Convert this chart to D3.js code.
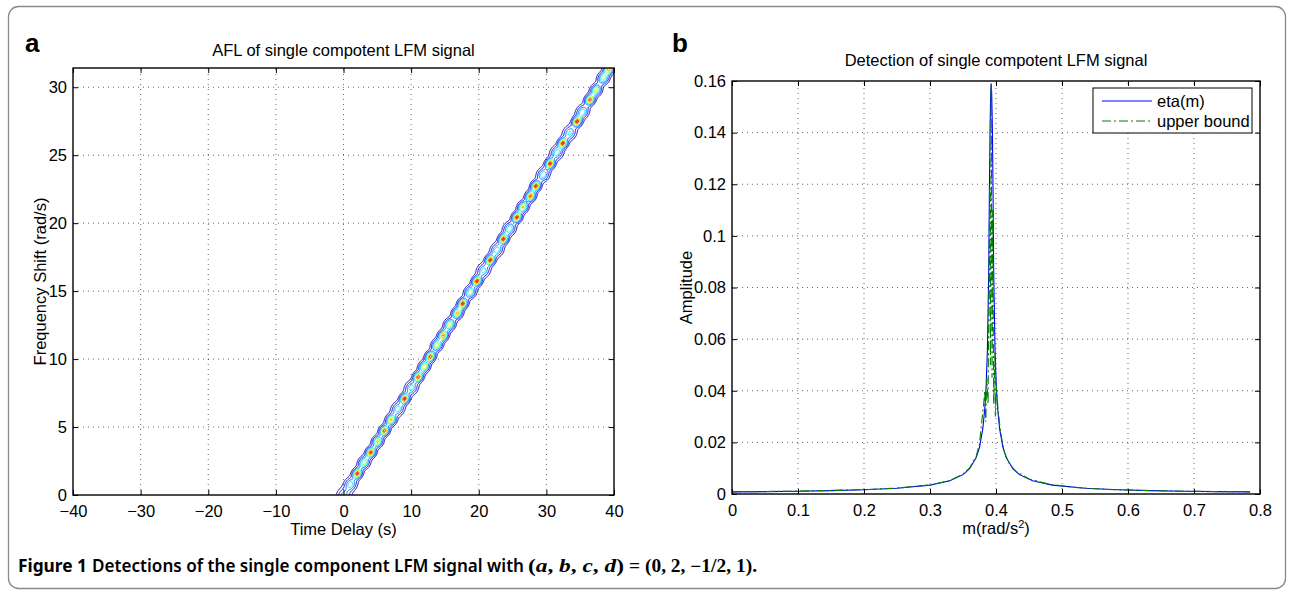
<!DOCTYPE html>
<html><head><meta charset="utf-8">
<script src="https://cdn.jsdelivr.net/npm/d3@7"></script>
<style>
body{margin:0;background:#fff}
</style>
</head><body>
<svg id="fig" width="1294" height="595" font-family="Liberation Sans, Arial, Helvetica, sans-serif"></svg>
<script>
// ---------------- DATA ----------------
// Panel a: ambiguity function (contour blobs along the chirp line)
const aflXTicks = [-40, -30, -20, -10, 0, 10, 20, 30, 40];
const aflYTicks = [0, 5, 10, 15, 20, 25, 30];
const blobTau  = [0.0, 1.0, 2.0, 3.0, 4.0, 5.0, 6.0, 7.0, 8.0, 9.0, 10.0, 11.0, 11.9, 12.8, 13.8, 14.7, 15.65, 16.8, 17.6, 18.7, 19.7, 20.67, 21.66, 22.65, 23.6, 24.5, 25.6, 26.5, 27.6, 28.4, 29.5, 30.5, 31.5, 32.4, 33.4, 34.5, 35.3, 36.4, 37.3, 38.4, 39.2];
const blobNu   = [0.0, 0.8, 1.6, 2.4, 3.15, 3.95, 4.75, 5.55, 6.35, 7.1, 7.9, 8.7, 9.45, 10.2, 11.05, 11.75, 12.55, 13.4, 14.1, 14.95, 15.75, 16.55, 17.3, 18.05, 18.85, 19.6, 20.45, 21.2, 22.0, 22.75, 23.6, 24.4, 25.2, 25.9, 26.65, 27.5, 28.2, 29.1, 29.8, 30.7, 31.35];
const blobPeak = [0.3, 0.45, 0.95, 0.62, 0.95, 0.76, 0.92, 0.76, 0.45, 0.96, 0.45, 0.92, 0.7, 0.92, 0.72, 0.86, 0.68, 0.8, 0.96, 0.62, 0.96, 0.42, 0.96, 0.45, 0.96, 0.5, 0.96, 0.76, 0.9, 0.96, 0.48, 0.96, 0.45, 0.96, 0.4, 0.96, 0.48, 0.9, 0.68, 0.6, 0.8];
const contourLevels = [0.04, 0.12, 0.24, 0.36, 0.5, 0.62, 0.74, 0.86, 0.94];

// Panel b: detection curves
const detXTicks = [0, 0.1, 0.2, 0.3, 0.4, 0.5, 0.6, 0.7, 0.8];
const detYTicks = [0, 0.02, 0.04, 0.06, 0.08, 0.1, 0.12, 0.14, 0.16];
const etaM   = [0, 0.05, 0.1, 0.15, 0.2, 0.25, 0.3, 0.33, 0.35, 0.36, 0.37, 0.375, 0.38, 0.383, 0.385, 0.387, 0.389, 0.39, 0.391, 0.392, 0.3927, 0.3935, 0.3945, 0.3955, 0.3965, 0.3985, 0.4005, 0.4025, 0.4055, 0.4105, 0.4155, 0.4255, 0.4355, 0.4555, 0.4855, 0.5355, 0.5855, 0.6355, 0.6855, 0.7355, 0.785];
const etaVal = [0.00081, 0.00093, 0.00109, 0.00132, 0.00166, 0.00224, 0.00345, 0.0051, 0.0075, 0.0098, 0.0141, 0.0181, 0.0252, 0.033, 0.0416, 0.056, 0.0865, 0.118, 0.142, 0.155, 0.159, 0.155, 0.142, 0.118, 0.0865, 0.056, 0.0416, 0.033, 0.0252, 0.0181, 0.0141, 0.0098, 0.0075, 0.0051, 0.00345, 0.00224, 0.00166, 0.00132, 0.00109, 0.00093, 0.00082];
const ubM   = [0, 0.05, 0.1, 0.15, 0.2, 0.25, 0.3, 0.33, 0.35, 0.36, 0.37, 0.375, 0.378, 0.381, 0.383, 0.3845, 0.386, 0.388, 0.3905, 0.3915, 0.3927, 0.394, 0.395, 0.3965, 0.3985, 0.399, 0.4005, 0.403, 0.406, 0.409, 0.413, 0.42, 0.43, 0.45, 0.48, 0.52, 0.57, 0.62, 0.67, 0.72, 0.785];
const ubVal = [0.00083, 0.00095, 0.00112, 0.00136, 0.0017, 0.0023, 0.0035, 0.0052, 0.0077, 0.0101, 0.0146, 0.0195, 0.027, 0.034, 0.040, 0.028, 0.045, 0.035, 0.12, 0.05, 0.159, 0.045, 0.11, 0.035, 0.055, 0.03, 0.042, 0.033, 0.026, 0.021, 0.016, 0.0118, 0.0088, 0.0058, 0.0038, 0.0025, 0.00175, 0.00138, 0.00113, 0.00097, 0.00083];
const legendLabels = ["eta(m)", "upper bound"];

// ---------------- DRAWING ----------------
const svg = d3.select("#fig");
const FS = 16.5;
const SANS = "Liberation Sans, Arial, Helvetica, sans-serif";
const defs = svg.append("defs");

// outer rounded frame
svg.append("rect").attr("x", 8.5).attr("y", 6.5).attr("width", 1277).attr("height", 582)
  .attr("rx", 10).attr("fill", "none").attr("stroke", "#8a8a8a").attr("stroke-width", 1.3);

function jet(t) {
  const c = v => Math.max(0, Math.min(1, v));
  const r = c(1.5 - Math.abs(4 * t - 3)), g = c(1.5 - Math.abs(4 * t - 2)), b = c(1.5 - Math.abs(4 * t - 1));
  return d3.rgb(r * 255, g * 255, b * 255).toString();
}

function grid(g, x, y, xt, yt) {
  const [x0, x1] = x.range(), [y0, y1] = y.range();
  const gg = g.append("g").attr("stroke", "#000").attr("stroke-opacity", 0.6)
    .attr("stroke-width", 1).attr("stroke-dasharray", "1,4");
  xt.filter(v => x(v) > x0 + 1 && x(v) < x1 - 1).forEach(v =>
    gg.append("line").attr("x1", x(v)).attr("x2", x(v)).attr("y1", y0).attr("y2", y1));
  yt.filter(v => y(v) < y0 - 1 && y(v) > y1 + 1).forEach(v =>
    gg.append("line").attr("y1", y(v)).attr("y2", y(v)).attr("x1", x0).attr("x2", x1));
}

function axes(g, x, y, xt, yt, xfmt, yfmt) {
  const [x0, x1] = x.range(), [y0, y1] = y.range();
  const style = s => {
    s.select(".domain").remove();
    s.attr("font-family", SANS).attr("font-size", FS);
    s.selectAll(".tick line").attr("stroke", "#000").attr("stroke-width", 1);
    s.selectAll(".tick text").attr("fill", "#000");
  };
  g.append("g").attr("transform", `translate(0,${y0})`)
    .call(d3.axisBottom(x).tickValues(xt).tickSizeInner(-5).tickSizeOuter(0).tickPadding(10).tickFormat(xfmt)).call(style);
  g.append("g").attr("transform", `translate(0,${y1})`)
    .call(d3.axisTop(x).tickValues(xt).tickSizeInner(-5).tickSizeOuter(0).tickFormat("")).call(style);
  g.append("g").attr("transform", `translate(${x0},0)`)
    .call(d3.axisLeft(y).tickValues(yt).tickSizeInner(-5).tickSizeOuter(0).tickPadding(6).tickFormat(yfmt)).call(style);
  g.append("g").attr("transform", `translate(${x1},0)`)
    .call(d3.axisRight(y).tickValues(yt).tickSizeInner(-5).tickSizeOuter(0).tickFormat("")).call(style);
  g.append("rect").attr("x", x0).attr("y", y1).attr("width", x1 - x0).attr("height", y0 - y1)
    .attr("fill", "none").attr("stroke", "#000").attr("stroke-width", 1.4);
}

// ---------- Panel a ----------
const xA = d3.scaleLinear([-40, 40], [73, 614]);
const yA = d3.scaleLinear([0, 10 * Math.PI], [495, 68]);
const gA = svg.append("g");
const fmtA = d => d < 0 ? "\u2212" + (-d) : String(d);
grid(gA, xA, yA, aflXTicks, aflYTicks);

defs.append("clipPath").attr("id", "clipA").append("rect")
  .attr("x", 73).attr("y", 68).attr("width", 541).attr("height", 427);

(function contoursA() {
  const k = 2, pad = 20;
  const left = 73 - pad, top = 68 - pad;
  const gw = (541 + 2 * pad) * k, gh = (427 + 2 * pad) * k;
  const field = new Float64Array(gw * gh);
  const n = blobTau.length;
  let ux = xA(blobTau[n - 1]) - xA(blobTau[0]), uy = yA(blobNu[n - 1]) - yA(blobNu[0]);
  const L = Math.hypot(ux, uy); ux /= L; uy /= L;
  const vx = -uy, vy = ux;
  for (let i = 0; i < n; i++) {
    const A = blobPeak[i];
    const f = Math.pow(0.95 / A, 0.35);
    const sa = 3.2 * f, sp = 2.4 * f;
    const cx = (xA(blobTau[i]) - left) * k, cy = (yA(blobNu[i]) - top) * k;
    const R = Math.ceil(5 * sa * k);
    for (let gy = Math.max(0, Math.floor(cy - R)); gy < Math.min(gh, Math.ceil(cy + R)); gy++) {
      for (let gx = Math.max(0, Math.floor(cx - R)); gx < Math.min(gw, Math.ceil(cx + R)); gx++) {
        const dx = (gx - cx) / k, dy = (gy - cy) / k;
        const a = dx * ux + dy * uy, p = dx * vx + dy * vy;
        field[gy * gw + gx] += A * Math.exp(-(a * a) / (2 * sa * sa) - (p * p) / (2 * sp * sp));
      }
    }
  }
  const cs = d3.contours().size([gw, gh]).thresholds(contourLevels)(field);
  const path = d3.geoPath(d3.geoIdentity().scale(1 / k));
  gA.append("g").attr("clip-path", "url(#clipA)")
    .append("g").attr("transform", `translate(${left},${top})`)
    .selectAll("path").data(cs).join("path")
    .attr("d", path).attr("fill", "none")
    .attr("stroke", d => jet(d.value)).attr("stroke-width", 1);
})();

axes(gA, xA, yA, aflXTicks, aflYTicks, fmtA, fmtA);

gA.append("text").attr("x", (73 + 614) / 2).attr("y", 56).attr("text-anchor", "middle")
  .attr("font-size", FS).text("AFL of single compotent LFM signal");
gA.append("text").attr("x", (73 + 614) / 2).attr("y", 535).attr("text-anchor", "middle")
  .attr("font-size", FS).text("Time Delay (s)");
gA.append("text").attr("transform", `translate(46,${(68 + 495) / 2}) rotate(-90)`).attr("text-anchor", "middle")
  .attr("font-size", FS).text("Frequency Shift (rad/s)");
svg.append("text").attr("x", 25).attr("y", 52).attr("font-size", 26).attr("font-weight", "bold").text("a");

// ---------- Panel b ----------
const xB = d3.scaleLinear([0, 0.8], [732, 1260]);
const yB = d3.scaleLinear([0, 0.16], [494, 81]);
const gB = svg.append("g");
const fmtB = d => String(d);
grid(gB, xB, yB, detXTicks, detYTicks);

defs.append("clipPath").attr("id", "clipB").append("rect")
  .attr("x", 732).attr("y", 81).attr("width", 528).attr("height", 413);

const line = d3.line().x(d => xB(d[0])).y(d => yB(d[1]));
const etaPts = etaM.map((m, i) => [m, etaVal[i]]);
const ubPts = ubM.map((m, i) => [m, ubVal[i]]);
const lines = gB.append("g").attr("clip-path", "url(#clipB)");
lines.append("path").attr("d", line(etaPts)).attr("fill", "none").attr("stroke", "#0000ff").attr("stroke-width", 1.1);
lines.append("path").attr("d", line(ubPts)).attr("fill", "none").attr("stroke", "#008000")
  .attr("stroke-width", 1.1).attr("stroke-dasharray", "9,3,2,3");

axes(gB, xB, yB, detXTicks, detYTicks, fmtB, fmtB);

// legend
const lg = gB.append("g");
lg.append("rect").attr("x", 1093).attr("y", 88).attr("width", 159).attr("height", 45)
  .attr("fill", "#fff").attr("stroke", "#000").attr("stroke-width", 1);
const legStyles = [{ c: "#0000ff", dash: null }, { c: "#008000", dash: "9,3,2,3" }];
legendLabels.forEach((lab, i) => {
  const yy = 101 + i * 20;
  lg.append("line").attr("x1", 1102).attr("x2", 1152).attr("y1", yy).attr("y2", yy)
    .attr("stroke", legStyles[i].c).attr("stroke-width", 1.1).attr("stroke-dasharray", legStyles[i].dash);
  lg.append("text").attr("x", 1157).attr("y", yy + 6).attr("font-size", FS).text(lab);
});

gB.append("text").attr("x", (732 + 1260) / 2).attr("y", 66).attr("text-anchor", "middle")
  .attr("font-size", FS).text("Detection of single compotent LFM signal");
const xl = gB.append("text").attr("x", (732 + 1260) / 2).attr("y", 534).attr("text-anchor", "middle").attr("font-size", FS);
xl.append("tspan").text("m(rad/s");
xl.append("tspan").attr("font-size", 11).attr("dy", -6).text("2");
xl.append("tspan").attr("dy", 6).text(")");
gB.append("text").attr("transform", `translate(692,${(81 + 494) / 2}) rotate(-90)`).attr("text-anchor", "middle")
  .attr("font-size", FS).text("Amplitude");
svg.append("text").attr("x", 672).attr("y", 52).attr("font-size", 26).attr("font-weight", "bold").text("b");

// ---------- Caption ----------
const capY = 572;
const CAPSANS = "Noto Sans, Open Sans, sans-serif";
const SERIF = "Liberation Serif, DejaVu Serif, serif";
svg.append("text").attr("x", 18).attr("y", capY).attr("font-family", CAPSANS).attr("font-weight", 700)
  .attr("font-size", 17).attr("textLength", 69).attr("lengthAdjust", "spacingAndGlyphs").text("Figure 1");
svg.append("text").attr("x", 92).attr("y", capY).attr("font-family", CAPSANS).attr("font-weight", 600)
  .attr("font-size", 17).attr("textLength", 432).attr("lengthAdjust", "spacingAndGlyphs")
  .text("Detections of the single component LFM signal with");
const m1 = svg.append("text").attr("x", 528).attr("y", capY).attr("font-family", SERIF)
  .attr("font-weight", "bold").attr("font-size", 18).attr("textLength", 96).attr("lengthAdjust", "spacingAndGlyphs");
m1.append("tspan").text("(");
["a", "b", "c", "d"].forEach((ch, i) => {
  m1.append("tspan").attr("font-style", "italic").text(ch);
  m1.append("tspan").text(i < 3 ? ", " : ")");
});
svg.append("text").attr("x", 629).attr("y", capY).attr("font-family", SERIF)
  .attr("font-weight", "bold").attr("font-size", 18).attr("textLength", 128).attr("lengthAdjust", "spacingAndGlyphs")
  .text("= (0, 2, \u22121/2, 1).");
</script>
</body></html>
